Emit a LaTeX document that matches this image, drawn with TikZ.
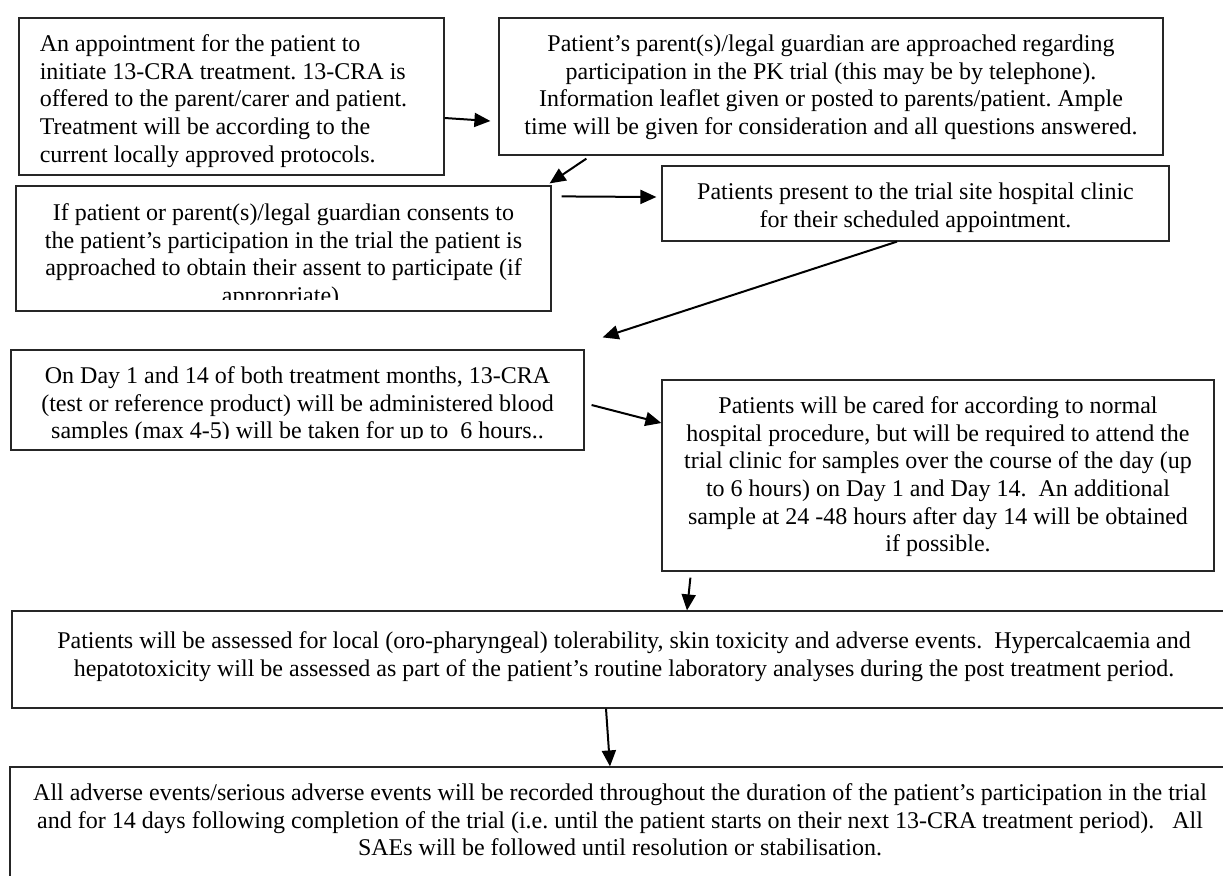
\documentclass[tikz,border=0pt]{standalone}
\usepackage{fontspec}
\setmainfont{Liberation Serif}
\usetikzlibrary{calc,arrows.meta}

\tikzstyle{stage}=[draw=black!85,line width=0.6pt,rectangle,inner sep=0pt]
\tikzstyle{stage text}=[inner sep=0pt,align=center,font=\fontsize{12}{13.8}\selectfont]
\tikzstyle{edge} = [draw,line width=1pt,-{Triangle[length=8pt,width=7pt]}]

\begin{document}
\frenchspacing
\begin{tikzpicture}[x=0.5pt,y=-0.5pt]
\clip (0,0) rectangle (1223,875);
\foreach \pos/\name/\w/\h in {{(231.5,96.5)/A/425/157}, {(831,86.5)/B/664/137},
                               {(283.5,248.5)/C/535/125}, {(915.5,203.5)/D/507/75},
                               {(297.5,400)/E/573/100}, {(938,475.5)/F/552/191},
                               {(624,659.5)/G/1224/97}, {(620,833.5)/H/1220/133}}{
  \node[stage,minimum width=\w*0.5pt,minimum height=\h*0.5pt] (\name) at \pos {};
}

\node[stage text,anchor=north west,align=left] (At) at ($(A.north west)+(21,17)$)
  {An appointment for the patient to\\ initiate 13-CRA treatment. 13-CRA is\\
   offered to the parent/carer and patient.\\ Treatment will be according to the\\
   current locally approved protocols.};
\node[stage text,anchor=north] (Bt) at ($(B.north)+(0,17)$)
  {Patient’s parent(s)/legal guardian are approached regarding\\
   participation in the PK trial (this may be by telephone).\\
   Information leaflet given or posted to parents/patient. Ample\\
   time will be given for consideration and all questions answered.};
\begin{scope}
  \clip (C.north west) rectangle ($(C.south east)+(0,-12)$);
  \node[stage text,anchor=north] (Ct) at ($(C.north)+(0,18)$)
    {If patient or parent(s)/legal guardian consents to\\
     the patient’s participation in the trial the patient is\\
     approached to obtain their assent to participate (if\\
     appropriate).};
\end{scope}
\node[stage text,anchor=north] (Dt) at ($(D.north)+(0,17)$)
  {Patients present to the trial site hospital clinic\\
   for their scheduled appointment.};
\begin{scope}
  \clip (E.north west) rectangle ($(E.south east)+(0,-12)$);
  \node[stage text,anchor=north] (Et) at ($(E.north)+(0,17)$)
    {On Day 1 and 14 of both treatment months, 13-CRA\\
     (test or reference product) will be administered blood\\
     samples (max 4-5) will be taken for up to~ 6 hours..};
\end{scope}
\node[stage text,anchor=north] (Ft) at ($(F.north)+(0,17)$)
  {Patients will be cared for according to normal\\
   hospital procedure, but will be required to attend the\\
   trial clinic for samples over the course of the day (up\\
   to 6 hours) on Day 1 and Day 14.~ An additional\\
   sample at 24 -48 hours after day 14 will be obtained\\
   if possible.};
\node[stage text,anchor=north] (Gt) at ($(G.north)+(0,21)$)
  {Patients will be assessed for local (oro-pharyngeal) tolerability, skin toxicity and adverse events.~ Hypercalcaemia and\\
   hepatotoxicity will be assessed as part of the patient’s routine laboratory analyses during the post treatment period.};
\node[stage text,anchor=north] (Ht) at ($(H.north)+(0,17)$)
  {All adverse events/serious adverse events will be recorded throughout the duration of the patient’s participation in the trial\\
   and for 14 days following completion of the trial (i.e. until the patient starts on their next 13-CRA treatment period).~~ All\\
   SAEs will be followed until resolution or stabilisation.};

% flow between the stages
\path[edge] ($(A.east)+(0,21.5)$) -- ($(B.west)+(-8,34.5)$);
\path[edge] ($(B.south west)+(88,3)$) -- ($(C.north east)+(-2,-2)$);
\path[edge] ($(C.north east)+(10,11)$) -- ($(D.west)+(-5,-6.5)$);
\path[edge] ($(D.south)+(-18.5,0)$) -- ($(E.north east)+(18,-12)$);
\path[edge] ($(E.east)+(7,5)$) -- ($(F.west)+(0,-52.5)$);
\path[edge] ($(F.south west)+(29,6)$) -- ($(G.north)+(63,0)$);
\path[edge] ($(G.south)+(-18,0)$) -- ($(H.north)+(-10,0)$);
\end{tikzpicture}
\end{document}
